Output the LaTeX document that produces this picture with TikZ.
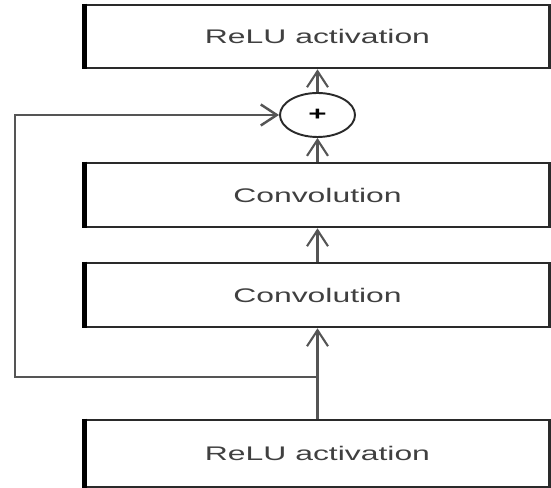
\documentclass[tikz,border=0pt]{standalone}
\usepackage{fontspec}
\setmainfont{Liberation Sans}[FakeStretch=1.62]
\usetikzlibrary{arrows.meta,shapes.geometric}
\definecolor{boxline}{HTML}{2A2A2A}
\definecolor{wire}{HTML}{555555}
\definecolor{txt}{HTML}{404040}
\begin{document}
\begin{tikzpicture}[
  blk/.style={draw=boxline,line width=1.5pt,minimum width=9.28cm,minimum height=1.28cm,
    text=txt,font=\fontsize{11.2}{13}\selectfont},
  edge/.style={draw=black,line width=2.8pt},
  arr/.style={draw=wire,line width=1.2pt,-{Straight Barb[length=3.2mm,width=4.2mm]}},
  sum/.style={ellipse,draw=boxline,line width=1.1pt,minimum width=1.5cm,minimum height=0.88cm,inner sep=0pt}]
\useasboundingbox (0,0) rectangle (11.02,9.76);
\node[blk,minimum height=1.26cm] (relutop) at (6.35,9.03) {ReLU activation};
\node[sum] (plus) at (6.35,7.46) {\bfseries\fontsize{11}{13}\selectfont +};
\node[blk] (convb) at (6.35,5.86) {Convolution};
\node[blk] (conva) at (6.35,3.86) {Convolution};
\node[blk,minimum height=1.34cm] (relubot) at (6.35,0.69) {ReLU activation};
\foreach \n in {relutop,convb,conva,relubot}
  \draw[edge] (\n.north west) -- (\n.south west);
\coordinate (split) at (6.35,2.22);
\coordinate (corner) at (0.3,2.22);
\draw[arr] (relubot) -- (conva);
\draw[arr] (conva) -- (convb);
\draw[arr] (convb) -- (plus);
\draw[arr] (plus) -- (relutop);
\draw[arr,line width=1.4pt] (split) -- (corner) |- (plus.west);
\end{tikzpicture}
\end{document}
